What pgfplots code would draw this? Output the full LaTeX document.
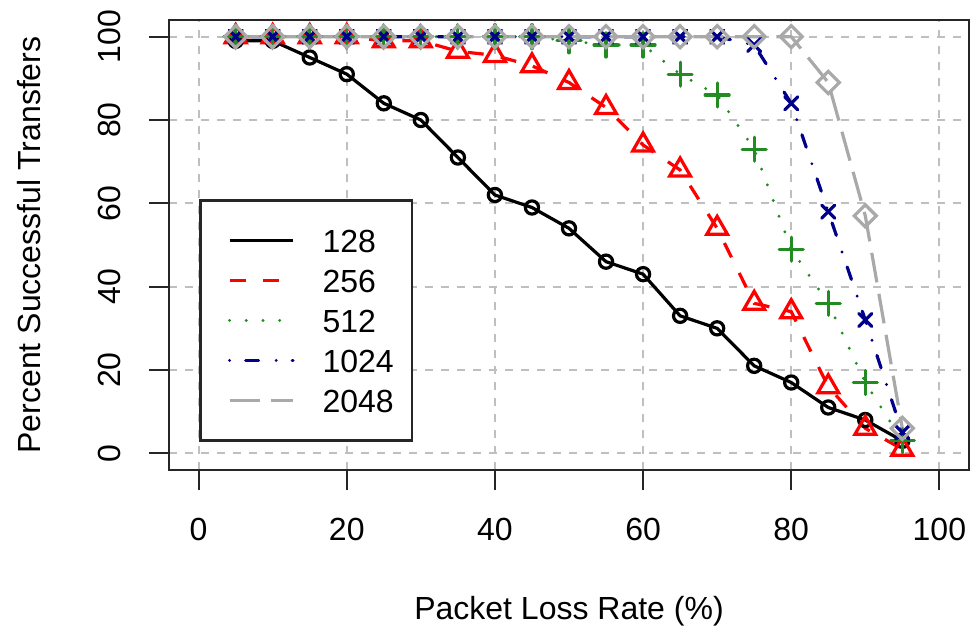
\documentclass[border=0pt]{standalone}
\usepackage{fontspec}
\setmainfont{Liberation Sans}
\usepackage{pgfplots}
\pgfplotsset{compat=1.18}

\definecolor{rgreen}{HTML}{228B22}
\definecolor{rblue}{HTML}{00008B}
\definecolor{rgrey}{HTML}{A9A9A9}

\newcommand{\lbl}{\fontsize{16bp}{19bp}\selectfont}

\begin{document}
\begin{tikzpicture}
\begin{axis}[
  scale only axis,
  width=400bp, height=225bp,
  xmin=-4, xmax=104, ymin=-4, ymax=104,
  xtick={0,20,...,100}, ytick={0,20,...,100},
  tick align=outside, xtick pos=lower, ytick pos=left,
  major tick length=10bp,
  tick style={black!85, line width=1bp},
  axis line style={black!85, line width=1.2bp},
  grid=major,
  major grid style={gray!50, line width=1bp, dash pattern=on 4bp off 4bp},
  tick label style={font=\lbl, inner sep=0pt},
  /pgf/number format/assume math mode=true,
  xticklabel shift=14bp,
  yticklabel shift=14bp,
  xticklabel style={anchor=north},
  yticklabel style={rotate=90, anchor=south},
  xlabel={Packet Loss Rate (\%)},
  ylabel={Percent Successful Transfers},
  label style={font=\lbl, inner sep=0pt},
  xlabel style={at={(axis description cs:0.5,-0.3333)}, anchor=base},
  ylabel style={at={(axis description cs:-0.16,0.5)}, anchor=base},
  legend cell align=left,
  legend style={
    at={(axis description cs:0.038,0.063)}, anchor=south west,
    draw=black!85, line width=1.2bp, fill=white,
    inner xsep=0pt, inner ysep=14bp,
    row sep=8bp, column sep=14bp,
    font=\lbl,
    nodes={inner sep=0pt, text height=12bp, text depth=0pt, text width=44.6bp, align=left},
  },
  legend image code/.code={\draw[#1] (0bp,0bp) -- (31.7bp,0bp); \path (-13.7bp,0bp);},
]
% packet size 128
\addplot[black, line width=1.6bp, mark=o, mark size=3.3bp, mark options={solid}] coordinates {
  (5,99) (10,99) (15,95) (20,91) (25,84) (30,80) (35,71) (40,62) (45,59) (50,54)
  (55,46) (60,43) (65,33) (70,30) (75,21) (80,17) (85,11) (90,8) (95,3)
};
% 256
\addplot[red, line width=1.6bp, dash pattern=on 8bp off 8.7bp, mark=triangle, mark size=6bp, mark options={solid}] coordinates {
  (5,100) (10,100) (15,100) (20,100) (25,99) (30,99) (35,96.5) (40,95.5) (45,93) (50,89)
  (55,83) (60,74) (65,68) (70,54) (75,36) (80,34) (85,16) (90,6) (95,1)
};
% 512
\addplot[rgreen, line width=1.6bp, line cap=round, dash pattern=on 0bp off 8.35bp, mark=+, mark size=6bp, mark options={solid}] coordinates {
  (5,100) (10,100) (15,100) (20,100) (25,100) (30,100) (35,100) (40,100) (45,100) (50,99)
  (55,98) (60,98) (65,91) (70,86) (75,73) (80,49) (85,36) (90,17) (95,3)
};
% 1024
\addplot[rblue, line width=1.6bp, line cap=round, dash pattern=on 0bp off 8bp on 6.5bp off 8.8bp, mark=x, mark size=4.6bp, mark options={solid}] coordinates {
  (5,100) (10,100) (15,100) (20,100) (25,100) (30,100) (35,100) (40,100) (45,100) (50,100)
  (55,100) (60,100) (65,100) (70,100) (75,98) (80,84) (85,58) (90,32) (95,5)
};
% 2048
\addplot[rgrey, line width=1.6bp, dash pattern=on 15bp off 5.8bp, mark=square, mark size=3.9bp, mark options={solid, rotate=45}] coordinates {
  (5,100) (10,100) (15,100) (20,100) (25,100) (30,100) (35,100) (40,100) (45,100) (50,100)
  (55,100) (60,100) (65,100) (70,100) (75,100) (80,100) (85,89) (90,57) (95,6)
};
\legend{128,256,512,1024,2048}
\end{axis}
\pgfresetboundingbox
\path[use as bounding box] (-84.5bp,-79.5bp) rectangle (401bp,235bp);
\end{tikzpicture}
\end{document}
